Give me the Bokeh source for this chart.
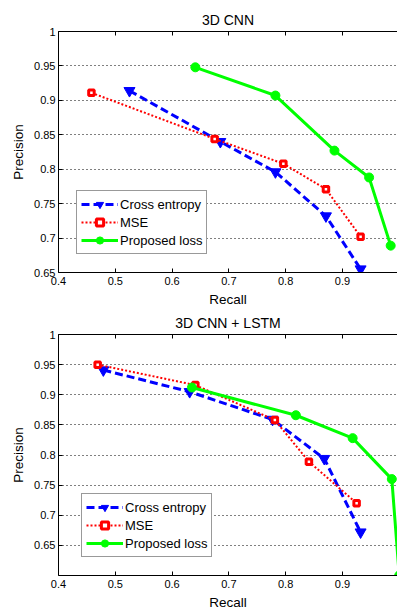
from bokeh.plotting import figure
from bokeh.layouts import column
from bokeh.models import LinearAxis, FixedTicker, Range1d
from bokeh.embed import file_html
from bokeh.resources import INLINE

# ---- tick values / labels ----
recall_ticks = [0.4, 0.5, 0.6, 0.7, 0.8, 0.9, 1.0]
recall_tick_labels = ["0.4", "0.5", "0.6", "0.7", "0.8", "0.9", "1"]
precision_ticks = [0.65, 0.7, 0.75, 0.8, 0.85, 0.9, 0.95, 1.0]
precision_tick_labels = ["0.65", "0.7", "0.75", "0.8", "0.85", "0.9", "0.95", "1"]

series_names = ["Cross entropy", "MSE", "Proposed loss"]

# ---- 3D CNN ----
cnn_ce_recall = [0.525, 0.685, 0.782, 0.871, 0.932]
cnn_ce_precision = [0.914, 0.840, 0.796, 0.732, 0.655]
cnn_mse_recall = [0.458, 0.675, 0.796, 0.871, 0.932]
cnn_mse_precision = [0.911, 0.844, 0.808, 0.771, 0.702]
cnn_prop_recall = [0.641, 0.782, 0.886, 0.947, 0.985]
cnn_prop_precision = [0.948, 0.907, 0.827, 0.788, 0.689]

# ---- 3D CNN + LSTM ----
lstm_ce_recall = [0.479, 0.631, 0.777, 0.868, 0.932]
lstm_ce_precision = [0.941, 0.905, 0.859, 0.794, 0.672]
lstm_mse_recall = [0.469, 0.641, 0.781, 0.841, 0.925]
lstm_mse_precision = [0.950, 0.916, 0.858, 0.789, 0.720]
lstm_prop_recall = [0.635, 0.818, 0.918, 0.987, 1.0]
lstm_prop_precision = [0.912, 0.866, 0.828, 0.760, 0.600]

FONT = "Liberation Sans"


def make_fig(title, ce, mse, prop, y_start, height, border_top, border_bottom, legend_loc):
    p = figure(width=397, height=height, output_backend="svg", toolbar_location=None,
               x_range=Range1d(0.4, 0.997), y_range=Range1d(y_start, 1.0),
               min_border_left=58, min_border_right=0,
               min_border_top=border_top, min_border_bottom=border_bottom,
               background_fill_color="white", border_fill_color="white",
               outline_line_color=None, x_axis_label="Recall", y_axis_label="Precision")
    p.title.text = title
    p.title.align = "center"
    p.title.text_font = FONT
    p.title.text_font_size = "14px"
    p.title.text_font_style = "normal"
    p.title.text_color = "black"
    p.title.standoff = 7

    p.xgrid.visible = False
    p.ygrid.ticker = FixedTicker(ticks=precision_ticks)
    p.ygrid.grid_line_color = "black"
    p.ygrid.grid_line_dash = "1 3"
    p.ygrid.grid_line_width = 1

    for ax, ticks, labels in ((p.xaxis[0], recall_ticks, recall_tick_labels),
                              (p.yaxis[0], precision_ticks, precision_tick_labels)):
        ax.ticker = FixedTicker(ticks=ticks, minor_ticks=[])
        ax.major_label_overrides = dict(zip(ticks, labels))
        ax.major_tick_in = 4
        ax.major_tick_out = 0
        ax.minor_tick_line_color = None
        ax.axis_line_color = "black"
        ax.major_tick_line_color = "black"
        ax.major_label_text_font = FONT
        ax.major_label_text_font_size = "11px"
        ax.major_label_text_color = "black"
        ax.axis_label_text_font = FONT
        ax.axis_label_text_font_size = "13.5px"
        ax.axis_label_text_font_style = "normal"
        ax.axis_label_text_color = "black"
    p.xaxis[0].major_label_standoff = 4
    p.xaxis[0].axis_label_standoff = 4
    p.yaxis[0].major_label_standoff = 3
    p.yaxis[0].axis_label_standoff = 5

    top = LinearAxis(ticker=FixedTicker(ticks=recall_ticks, minor_ticks=[]),
                     major_label_text_font_size="0px", major_label_text_color=None,
                     major_tick_in=4, major_tick_out=0, minor_tick_line_color=None,
                     axis_line_color="black", major_tick_line_color="black",
                     major_label_standoff=0)
    p.add_layout(top, "above")

    # Cross entropy
    p.line(ce[0], ce[1], line_color="#0000ff", line_width=3, line_dash="8 4",
           legend_label=series_names[0])
    p.scatter(ce[0], ce[1], marker="inverted_triangle", size=11, fill_color="#0000ff",
              line_color="#0000ff", legend_label=series_names[0])
    # MSE
    p.line(mse[0], mse[1], line_color="#ff0000", line_width=2, line_dash="2 2",
           legend_label=series_names[1])
    p.scatter(mse[0], mse[1], marker="square", size=5.5, fill_color="white",
              line_color="#ff0000", line_width=3, legend_label=series_names[1])
    # Proposed loss
    p.line(prop[0], prop[1], line_color="#00ff00", line_width=3,
           legend_label=series_names[2])
    p.scatter(prop[0], prop[1], marker="circle", size=9, fill_color="#00ff00",
              line_color="#00ff00", legend_label=series_names[2])

    lg = p.legend[0]
    lg.location = legend_loc
    lg.margin = 0
    lg.padding = 4
    lg.spacing = 0
    lg.glyph_width = 37
    lg.glyph_height = 18
    lg.label_height = 18
    lg.label_standoff = 2
    lg.label_text_font = FONT
    lg.label_text_font_size = "13px"
    lg.label_text_color = "black"
    lg.border_line_color = "#333333"
    lg.border_line_width = 1
    lg.background_fill_color = "white"
    lg.background_fill_alpha = 1.0
    return p


p1 = make_fig("3D CNN", (cnn_ce_recall, cnn_ce_precision), (cnn_mse_recall, cnn_mse_precision),
              (cnn_prop_recall, cnn_prop_precision), 0.65, 309, 31, 33, (18, 18))
p2 = make_fig("3D CNN + LSTM", (lstm_ce_recall, lstm_ce_precision), (lstm_mse_recall, lstm_mse_precision),
              (lstm_prop_recall, lstm_prop_precision), 0.6, 303, 25, 32, (23, 18))

layout = column(p1, p2, spacing=0)
open("out.html", "w").write(file_html(layout, INLINE))
